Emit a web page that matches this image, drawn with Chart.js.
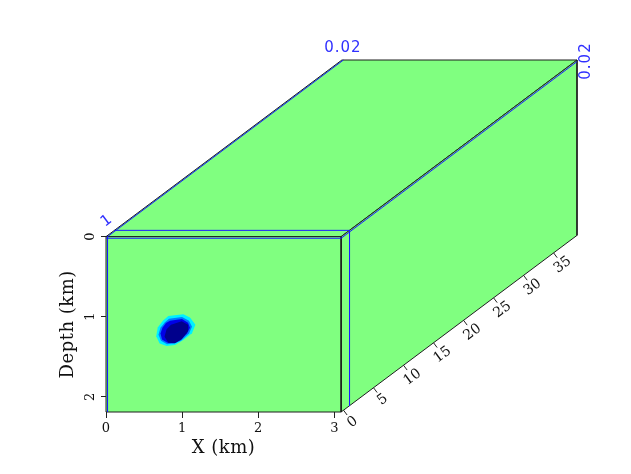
<!DOCTYPE html>
<html><head><meta charset="utf-8">
<script src="https://cdn.jsdelivr.net/npm/chart.js@4.4.1/dist/chart.umd.min.js"></script>
<style>html,body{margin:0;padding:0;background:#fff;}canvas{display:block;}</style>
</head><body>
<canvas id="c" width="631" height="474"></canvas>
<script>
// ---- data ----
const xTicks = [0, 1, 2, 3];
const depthTicks = [0, 1, 2];
const thirdTicks = [0, 5, 10, 15, 20, 25, 30, 35];
const xRange = [0, 3.09];
const depthRange = [0, 2.19];
const thirdRange = [-0.4, 38.9];
const frameDepth = 0.02;
const frameX = 0.02;
const frameThird = 1;
const frameLabels = ['0.02', '0.02', '1']; // depth, x, third
const xTitle = 'X (km)';
const depthTitle = 'Depth (km)';
// anomaly contours [X km, Depth km]
const blobCyan = [[0.819,0.990],[1.016,0.968],[1.104,1.010],[1.175,1.099],[1.130,1.205],[1.016,1.290],[0.907,1.352],[0.798,1.366],[0.705,1.333],[0.660,1.245],[0.680,1.135],[0.748,1.050]];
const blobMid = [[0.828,1.024],[0.999,1.005],[1.091,1.049],[1.130,1.124],[1.091,1.211],[0.986,1.299],[0.894,1.336],[0.802,1.343],[0.723,1.299],[0.690,1.224],[0.716,1.137],[0.775,1.068]];
const blobBlue = [[0.841,1.049],[0.999,1.030],[1.078,1.074],[1.104,1.137],[1.064,1.211],[0.972,1.293],[0.894,1.324],[0.808,1.324],[0.736,1.286],[0.716,1.211],[0.742,1.137],[0.788,1.080]];
const blobCore = [[0.854,1.099],[0.995,1.058],[1.078,1.099],[1.078,1.180],[0.995,1.280],[0.907,1.330],[0.819,1.324],[0.769,1.249],[0.795,1.161]];

// ---- oblique projection (layout) ----
const SHIFT = {x: 3.10, d: -2.206};
function proj(X, D, T) {
  const f = (T - thirdRange[0]) / (thirdRange[1] - thirdRange[0]);
  return {x: X + f * SHIFT.x, y: D + f * SHIFT.d};
}
const GREEN = '#80ff80', EDGE = '#1e1e1e', BLUE = '#1a1aff';
const t0 = thirdRange[0], t1 = thirdRange[1], xM = xRange[1], dM = depthRange[1];

function ds(points, o) {
  return Object.assign({
    data: points, showLine: true, pointRadius: 0, pointHoverRadius: 0,
    borderWidth: 1, borderColor: EDGE, backgroundColor: 'transparent',
    fill: false, tension: 0, clip: false
  }, o);
}
const close = a => a.concat([a[0]]);
const xy = arr => close(arr.map(([X, D]) => ({x: X, y: D})));

const datasets = [
  // faces
  ds(close([proj(0,0,t0), proj(xM,0,t0), proj(xM,0,t1), proj(0,0,t1)]), {backgroundColor: GREEN, fill: 'shape', order: 20}),
  ds(close([proj(xM,0,t0), proj(xM,0,t1), proj(xM,dM,t1), proj(xM,dM,t0)]), {backgroundColor: GREEN, fill: 'shape', order: 19}),
  ds(close([proj(0,0,t0), proj(xM,0,t0), proj(xM,dM,t0), proj(0,dM,t0)]), {backgroundColor: GREEN, fill: 'shape', order: 18}),
  // anomaly
  ds(xy(blobCyan), {backgroundColor: '#00f0ff', borderWidth: 0, fill: 'shape', order: 9}),
  ds(xy(blobMid), {backgroundColor: '#0078ff', borderWidth: 0, fill: 'shape', order: 8}),
  ds(xy(blobBlue), {backgroundColor: '#0000e6', borderWidth: 0, fill: 'shape', order: 7}),
  ds(xy(blobCore), {backgroundColor: '#00008c', borderWidth: 0, fill: 'shape', order: 6}),
  // frame position lines
  ds([proj(0,frameDepth,t0), proj(xM,frameDepth,t0)], {borderColor: BLUE, order: 2}),
  ds([proj(frameX,0,t0), proj(frameX,dM,t0)], {borderColor: BLUE, order: 2}),
  ds([proj(0,0,frameThird), proj(xM,0,frameThird)], {borderColor: BLUE, order: 2}),
  ds([proj(frameX,0,t0), proj(frameX,0,t1)], {borderColor: BLUE, order: 2}),
  ds([proj(xM,0,frameThird), proj(xM,dM,frameThird)], {borderColor: BLUE, order: 2}),
  ds([proj(xM,frameDepth,t0), proj(xM,frameDepth,t1)], {borderColor: BLUE, order: 2}),
];

const cubeText = {
  id: 'cubeText',
  afterDatasetsDraw(chart) {
    const {ctx, scales: {x, y}} = chart;
    const P = (X, D, T) => { const q = proj(X, D, T); return [x.getPixelForValue(q.x), y.getPixelForValue(q.y)]; };
    ctx.save();
    // third axis along bottom edge of side face
    const a = P(xM, dM, t0), b = P(xM, dM, t1);
    const ang = Math.atan2(b[1] - a[1], b[0] - a[0]);
    const nx = -Math.sin(ang), ny = Math.cos(ang);
    ctx.strokeStyle = '#222'; ctx.lineWidth = 1;
    ctx.fillStyle = '#111';
    ctx.font = '14px "DejaVu Serif"';
    ctx.textAlign = 'center'; ctx.textBaseline = 'middle';
    thirdTicks.forEach(v => {
      const p = P(xM, dM, v);
      ctx.beginPath(); ctx.moveTo(p[0], p[1]); ctx.lineTo(p[0] + nx * 6, p[1] + ny * 6); ctx.stroke();
      ctx.save();
      ctx.translate(p[0] + nx * 15, p[1] + ny * 15);
      ctx.rotate(ang);
      ctx.fillText(String(v), 0, 0);
      ctx.restore();
    });
    // axis titles
    ctx.font = '18px "DejaVu Serif"';
    try { ctx.letterSpacing = '0.5px'; } catch (e) {}
    const xmid = (x.getPixelForValue(xRange[0]) + x.getPixelForValue(xM)) / 2;
    ctx.fillText(xTitle, xmid, 448);
    const ymid = (y.getPixelForValue(depthRange[0]) + y.getPixelForValue(dM)) / 2;
    ctx.save(); ctx.translate(68, ymid); ctx.rotate(-Math.PI / 2); ctx.fillText(depthTitle, 0, 0); ctx.restore();
    // frame labels
    ctx.fillStyle = '#3030ff';
    ctx.font = '15px "DejaVu Sans"';
    try { ctx.letterSpacing = '1px'; } catch (e) {}
    let p = P(0, 0, t1);
    ctx.fillText(frameLabels[1], p[0] + 1, p[1] - 12);
    p = P(xM, 0, t1);
    ctx.save(); ctx.translate(p[0] + 9, p[1] + 1); ctx.rotate(-Math.PI / 2); ctx.fillText(frameLabels[0], 0, 0); ctx.restore();
    p = P(0, 0, t0);
    ctx.save(); ctx.translate(p[0] + 1, p[1] - 16); ctx.rotate(ang); ctx.fillText(frameLabels[2], 0, 0); ctx.restore();
    ctx.restore();
  }
};

const tickFont = {family: 'DejaVu Serif', size: 13};
new Chart(document.getElementById('c'), {
  type: 'line',
  data: {datasets},
  options: {
    responsive: false, animation: false, events: [],
    layout: {padding: {left: 66, right: 54, top: 60, bottom: 22}},
    plugins: {legend: {display: false}, tooltip: {enabled: false}},
    scales: {
      x: {
        type: 'linear', min: xRange[0], max: xM + SHIFT.x,
        afterBuildTicks: s => { s.ticks = xTicks.map(v => ({value: v})); },
        afterFit: s => { s.height = 40; },
        grid: {drawOnChartArea: false, drawTicks: true, tickLength: 6, color: '#222'},
        border: {display: false},
        ticks: {font: tickFont, color: '#111', padding: 3, maxRotation: 0, autoSkip: false}
      },
      y: {
        type: 'linear', reverse: true, min: depthRange[0] + SHIFT.d, max: dM,
        afterBuildTicks: s => { s.ticks = depthTicks.map(v => ({value: v})); },
        afterFit: s => { s.width = 40; },
        grid: {drawOnChartArea: false, drawTicks: true, tickLength: 5, color: '#222'},
        border: {display: false},
        ticks: {font: tickFont, color: '#111', padding: 6, minRotation: 90, maxRotation: 90, crossAlign: 'center', autoSkip: false}
      }
    }
  },
  plugins: [cubeText]
});
</script>
</body></html>
